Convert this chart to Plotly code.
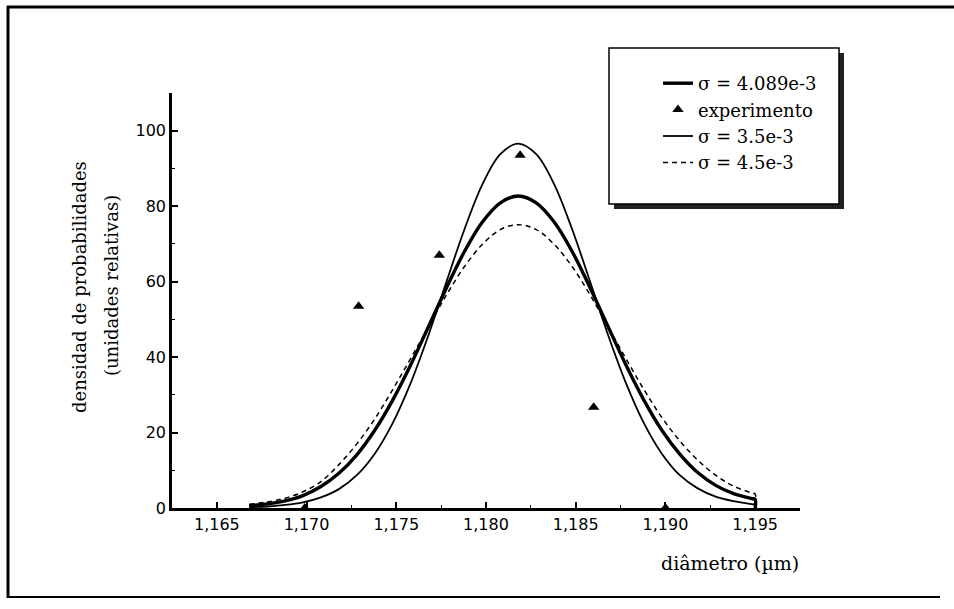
import plotly.graph_objects as go

# ---- data ----
x_curve = [1.1668, 1.1678, 1.1688, 1.1698, 1.1708, 1.1718, 1.1728, 1.1738,
           1.1748, 1.1758, 1.1768, 1.1778, 1.1788, 1.1798, 1.1808, 1.1818,
           1.1828, 1.1838, 1.1848, 1.1858, 1.1868, 1.1878, 1.1888, 1.1898,
           1.1908, 1.1918, 1.1928, 1.1938, 1.1948, 1.1950, 1.1950]

y_sigma_4089 = [0.6, 1.1, 1.9, 3.3, 5.7, 9.2, 14.1, 20.6, 28.6, 37.9, 48.1,
                58.4, 68.0, 75.8, 80.9, 82.7, 80.9, 75.8, 68.0, 58.4, 48.1,
                37.9, 28.6, 20.6, 14.3, 9.4, 6.0, 3.8, 2.5, 2.3, 0.0]

y_sigma_35 = [0.2, 0.4, 0.8, 1.5, 2.8, 5.0, 8.7, 14.4, 22.5, 33.1, 45.9,
              60.0, 73.9, 85.8, 93.8, 96.6, 93.8, 85.8, 73.9, 60.0, 45.9,
              33.1, 22.5, 14.4, 8.7, 5.2, 3.0, 1.8, 1.0, 0.9, 0.0]

y_sigma_45 = [1.0, 1.6, 2.6, 4.3, 7.0, 11.5, 17.0, 23.6, 31.4, 39.6, 48.1,
              56.5, 64.0, 69.9, 73.8, 75.1, 73.8, 69.9, 64.0, 56.5, 48.1,
              39.6, 31.4, 24.0, 17.8, 12.7, 8.7, 5.8, 4.0, 3.7, 0.0]

x_exp = [1.1699, 1.1729, 1.1774, 1.1819, 1.1860, 1.1900]
y_exp = [0.0, 53.5, 67.0, 93.5, 26.7, 0.0]

label_4089 = "σ = 4.089e-3"
label_exp = "experimento"
label_35 = "σ = 3.5e-3"
label_45 = "σ = 4.5e-3"

x_ticks = [1.165, 1.170, 1.175, 1.180, 1.185, 1.190, 1.195]
y_ticks = [0, 20, 40, 60, 80, 100]

# ---- figure ----
fig = go.Figure()
fig.add_trace(go.Scatter(x=x_curve, y=y_sigma_4089, mode="lines", name=label_4089,
                         line=dict(color="black", width=3.4, shape="spline", smoothing=1)))
fig.add_trace(go.Scatter(x=x_exp, y=y_exp, mode="markers", name=label_exp,
                         marker=dict(symbol="triangle-up", size=10, color="black")))
fig.add_trace(go.Scatter(x=x_curve, y=y_sigma_35, mode="lines", name=label_35,
                         line=dict(color="black", width=1.8, shape="spline", smoothing=1)))
fig.add_trace(go.Scatter(x=x_curve, y=y_sigma_45, mode="lines", name=label_45,
                         line=dict(color="black", width=1.5, dash="5px,4px",
                                   shape="spline", smoothing=1)))

L, R, T, B = 172, 154, 93, 101
W, H = 954, 609
pw, ph = W - L - R, H - T - B


def px(xp):
    return (xp - L) / pw


def py(yp):
    return (H - B - yp) / ph


shapes = [
    # outer frame (left, top, bottom)
    dict(type="line", xref="paper", yref="paper", x0=px(8), x1=px(8), y0=py(6), y1=py(598),
         line=dict(color="black", width=3)),
    dict(type="line", xref="paper", yref="paper", x0=px(7), x1=px(954), y0=py(7), y1=py(7),
         line=dict(color="black", width=3)),
    dict(type="line", xref="paper", yref="paper", x0=px(7), x1=px(940), y0=py(597), y1=py(597),
         line=dict(color="black", width=2)),
    # legend shadow and box
    dict(type="rect", xref="paper", yref="paper", x0=px(614), x1=px(844), y0=py(209), y1=py(53),
         fillcolor="#222222", line=dict(width=0), layer="above"),
    dict(type="rect", xref="paper", yref="paper", x0=px(609), x1=px(839), y0=py(204), y1=py(48),
         fillcolor="white", line=dict(color="black", width=1.5), layer="above"),
]

title_font = dict(family="DejaVu Serif", size=18, color="black")
annotations = [
    dict(text="densidad de probabilidades", xref="paper", yref="paper",
         x=px(79), y=py(287), textangle=-90, showarrow=False, xanchor="center", yanchor="middle",
         font=title_font),
    dict(text="(unidades relativas)", xref="paper", yref="paper",
         x=px(111), y=py(286), textangle=-90, showarrow=False, xanchor="center", yanchor="middle",
         font=title_font),
    dict(text="diâmetro (µm)", xref="paper", yref="paper", x=px(801), y=py(563),
         showarrow=False, xanchor="right", yanchor="middle",
         font=dict(family="DejaVu Serif", size=19, color="black")),
]

fig.update_layout(
    width=W, height=H,
    margin=dict(l=L, r=R, t=T, b=B),
    paper_bgcolor="white", plot_bgcolor="white",
    separators=",.",
    showlegend=True,
    legend=dict(x=px(658), y=py(65), xanchor="left", yanchor="top",
                bgcolor="rgba(0,0,0,0)", borderwidth=0,
                font=dict(family="DejaVu Serif", size=18, color="black"),
                traceorder="normal"),
    shapes=shapes,
    annotations=annotations,
    font=dict(family="DejaVu Sans", color="black"),
)

fig.update_xaxes(range=[1.1625, 1.1975], tickvals=x_ticks, tickformat=".3f",
                 showline=True, linecolor="black", linewidth=2.5, mirror=False,
                 showgrid=False, zeroline=False,
                 ticks="inside", ticklen=6, tickwidth=1.5, tickcolor="black",
                 tickfont=dict(family="DejaVu Sans", size=16, color="black"),
                 minor=dict(dtick=0.0025, tick0=1.165, ticks="inside", ticklen=3,
                            tickwidth=1, tickcolor="black"))
fig.update_yaxes(range=[0, 110], tickvals=y_ticks,
                 showline=True, linecolor="black", linewidth=2.5, mirror=False,
                 showgrid=False, zeroline=False,
                 ticks="inside", ticklen=6, tickwidth=1.5, tickcolor="black",
                 tickfont=dict(family="DejaVu Sans", size=16, color="black"),
                 minor=dict(dtick=10, tick0=0, ticks="inside", ticklen=3,
                            tickwidth=1, tickcolor="black"))

fig.write_html("out.html", config={"displayModeBar": False},
               post_script="document.documentElement.style.overflow='hidden';"
                           "document.body.style.margin='0';document.body.style.overflow='hidden';")
